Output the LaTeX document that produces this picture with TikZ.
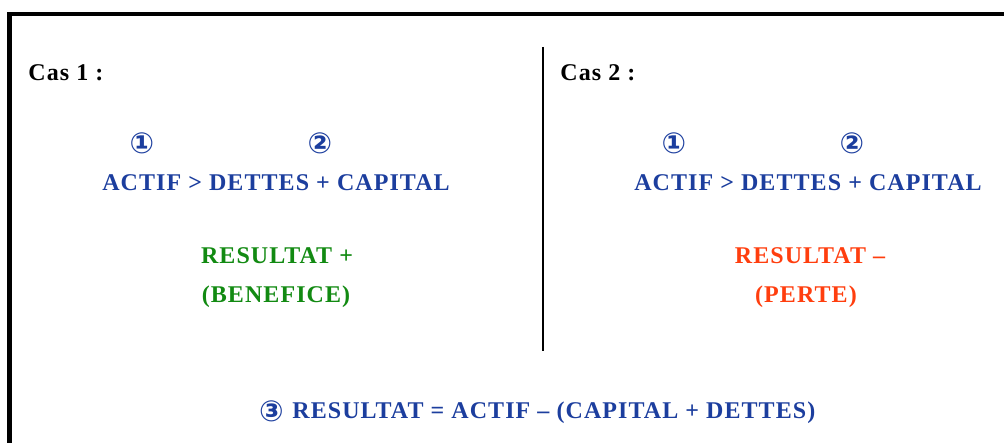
\documentclass[tikz,border=0pt]{standalone}
\usepackage{fontspec}
\setmainfont{Liberation Serif}
\newfontfamily\symbfont{DejaVu Sans}
\usetikzlibrary{positioning}

\definecolor{bleu}{RGB}{28,62,158}
\definecolor{vert}{RGB}{18,138,18}
\definecolor{rouge}{RGB}{255,62,14}

\begin{document}
\begin{tikzpicture}[
        x=0.5pt, y=-0.5pt,
        txt/.style={font=\fontsize{12}{14}\selectfont\bfseries\addfontfeature{LetterSpace=4.5}, inner sep=0pt, anchor=base},
        cas/.style={txt, anchor=base west, text=black},
        num/.style={font=\fontsize{14.5}{16}\symbfont\bfseries, inner sep=0pt, anchor=base, text=bleu},
        ineg/.style={txt, text=bleu},
        gain/.style={txt, text=vert},
        perte/.style={txt, text=rouge},
        cadre/.style={line width=2.25pt},
    ]
        \useasboundingbox (0,0) rectangle (1004,443);

        % Frame (top and left side only)
        \coordinate (cadre-d) at (1004,14);
        \coordinate (cadre-c) at (9.5,14);
        \coordinate (cadre-b) at (9.5,443);
        \draw[cadre] (cadre-d) -- (cadre-c) -- (cadre-b);

        % Separation between the two cases
        \coordinate (sep-h) at (543,47);
        \coordinate (sep-b) at (543,351);
        \draw[line width=0.75pt] (sep-h) -- (sep-b);

        % Both cases: title, numbers and inequality
        \foreach \n / \dx in {1/0, 2/532} {
            \node[cas] (cas-\n) at (28+\dx,81) {Cas \n{} :};
            \node[num] (un-\n) at (142+\dx,154) {①};
            \node[num] (deux-\n) at (320+\dx,154) {②};
            \node[ineg] (ineg-\n) at (276+\dx,191) {ACTIF > DETTES + CAPITAL};
        }

        % Case 1: profit
        \node[gain] (res-1) at (277,263) {RESULTAT +};
        \node[gain] (nat-1) at (276,302) {(BENEFICE)};

        % Case 2: loss
        \node[perte] (res-2) at (810,263) {RESULTAT –};
        \node[perte] (nat-2) at (806,302) {(PERTE)};

        % General formula
        \node[ineg, anchor=base west] (formule) at (292,418) {RESULTAT = ACTIF – (CAPITAL + DETTES)};
        \node[num, anchor=base east] (trois) at (284,421) {③};
\end{tikzpicture}
\end{document}
